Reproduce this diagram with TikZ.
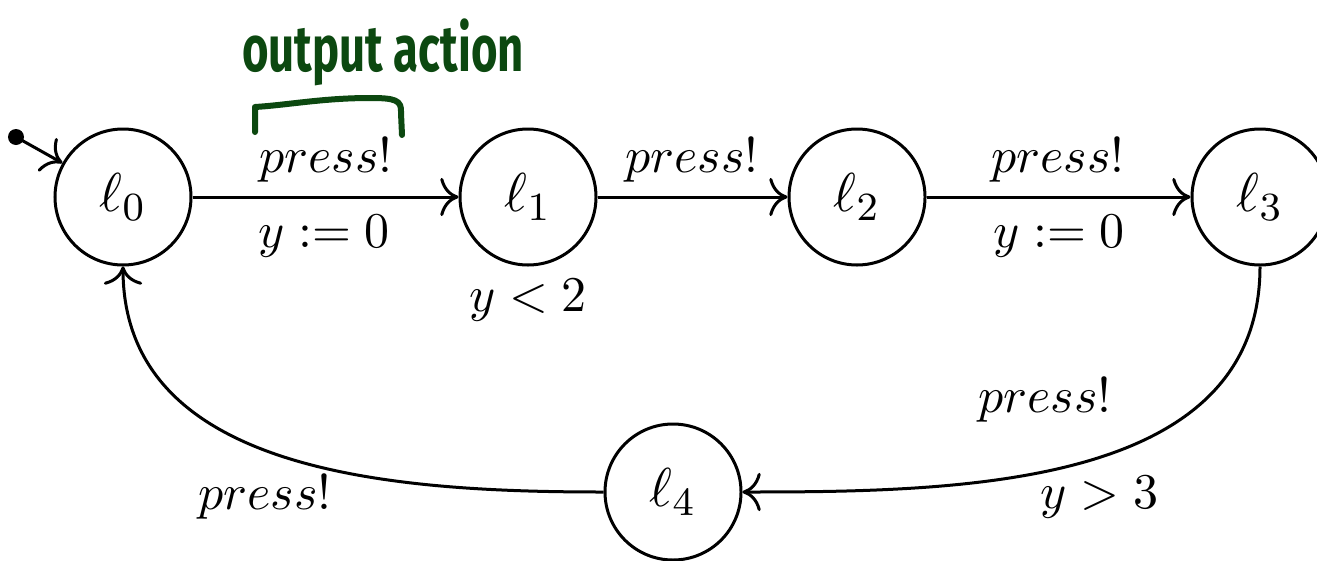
\documentclass[tikz,border=0pt]{standalone}
\usepackage{fontspec}
\usepackage{graphicx}
\usetikzlibrary{arrows.meta}
\newfontfamily\handfont{Fira Sans}
\definecolor{handgreen}{RGB}{12,72,16}
\begin{document}
\begin{tikzpicture}[x=0.2pt,y=-0.2pt,
  loc/.style={circle,draw,line width=0.6pt,minimum size=27.2pt,inner sep=0pt,font=\fontsize{11}{13}\selectfont},
  trans/.style={line width=0.6pt,-{To[scale=1.25]}},
  lab/.style={inner sep=0pt,font=\fontsize{10.2}{12}\selectfont},
  hand/.style={draw=handgreen,line width=1.2pt,line cap=round,line join=round}]
\useasboundingbox (0,0) rectangle (1317,560);
\node[loc] (l0) at (123,197) {$\ell_0$};
\node[loc] (l1) at (528,197) {$\ell_1$};
\node[loc] (l2) at (857,197) {$\ell_2$};
\node[loc] (l3) at (1260,197) {$\ell_3$};
\node[loc] (l4) at (673,492) {$\ell_4$};
\fill (16,137) circle (1.6pt);
\coordinate (init) at (16,137);
\draw[trans] (init) -- (l0);
\draw[trans] (l0) -- (l1);
\draw[trans] (l1) -- (l2);
\draw[trans] (l2) -- (l3);
\draw[trans] (l3.south) to[out=-90,in=0] (l4.east);
\draw[trans] (l4.west) to[out=180,in=-90] (l0.south);
\node[lab] (a1) at (326,160) {$press!$};
\node[lab] (b1) at (324,236) {$y := 0$};
\node[lab] (i1) at (528,300) {$y < 2$};
\node[lab] (a2) at (692,160) {$press!$};
\node[lab] (a3) at (1058,160) {$press!$};
\node[lab] (b3) at (1059,236) {$y := 0$};
\node[lab] (a4) at (1045,400) {$press!$};
\node[lab] (b4) at (1099,497) {$y > 3$};
\node[lab] (a5) at (265,497) {$press!$};
\node[inner sep=0pt,text=handgreen] (note) at (383,52) {\scalebox{0.7}[1]{\handfont\fontsize{13}{15}\selectfont\bfseries output action}};
\draw[hand] (255,132) -- (255,107) .. controls (288,105) and (323,98) .. (370,98) .. controls (395,98) and (402,100) .. (401,113) -- (402,135);
\end{tikzpicture}
\end{document}
